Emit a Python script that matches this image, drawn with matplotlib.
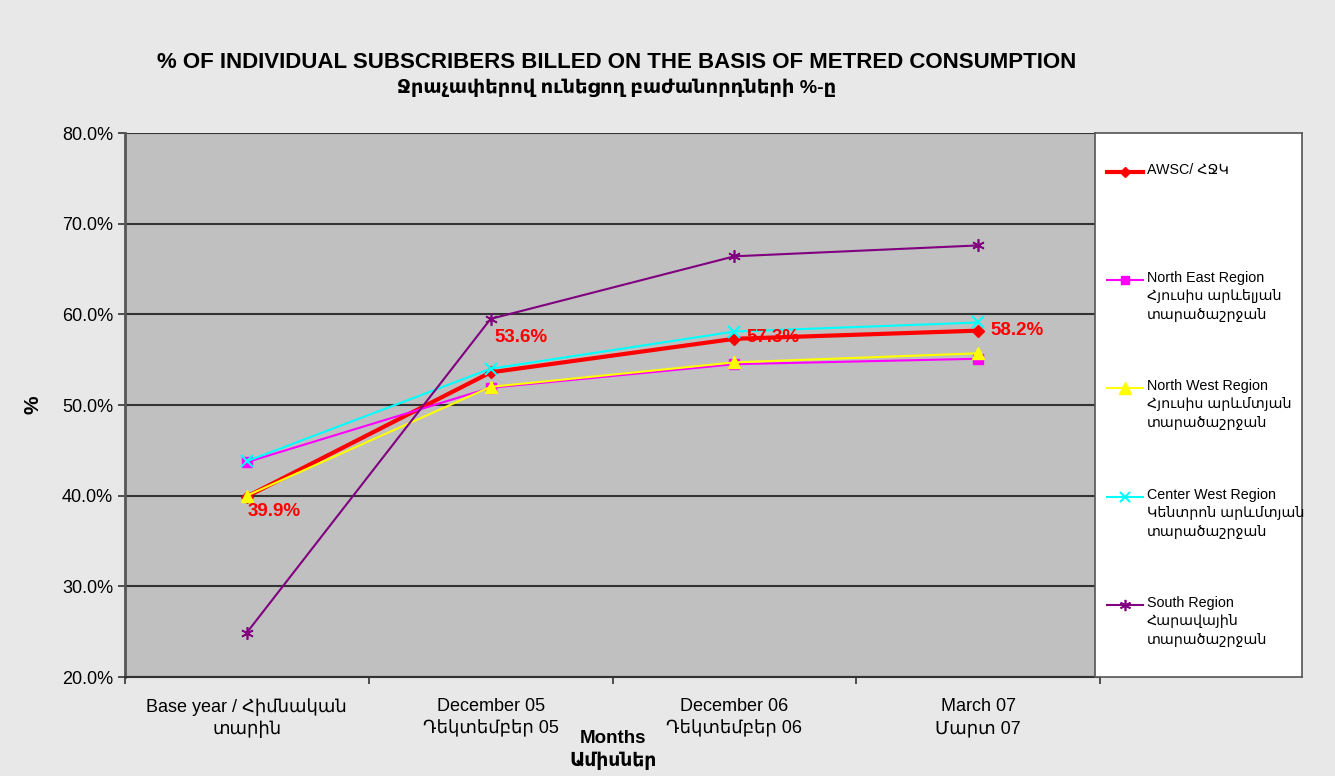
import matplotlib
matplotlib.use('Agg')
import matplotlib.pyplot as plt
import numpy as np

plt.rcParams['font.family'] = ['Liberation Sans', 'DejaVu Sans']

# data (percent)
periods = ['Base year / Հիմնական\nտարին', 'December 05\nԴեկտեմբեր 05',
           'December 06\nԴեկտեմբեր 06', 'March 07\nՄարտ 07']
awsc = [39.9, 53.6, 57.3, 58.2]
north_east = [43.7, 51.9, 54.5, 55.1]
north_west = [40.0, 52.0, 54.7, 55.7]
center_west = [43.8, 54.0, 58.1, 59.1]
south = [24.9, 59.5, 66.4, 67.6]
awsc_labels = ['39.9%', '53.6%', '57.3%', '58.2%']

series_names = ['AWSC/ ՀՋԿ',
                'North East Region\nՀյուսիս արևելյան\nտարածաշրջան',
                'North West Region\nՀյուսիս արևմտյան\nտարածաշրջան',
                'Center West Region\nԿենտրոն արևմտյան\nտարածաշրջան',
                'South Region\nՀարավային\nտարածաշրջան']

W, H = 1335, 776
fig = plt.figure(figsize=(W / 100, H / 100), dpi=100, facecolor='#e8e8e8')
ax = fig.add_axes([125 / W, 1 - 677 / H, 975 / W, 544 / H])
ax.set_facecolor('#c0c0c0')

x = np.arange(len(periods)) + 0.5
styles = [
    (awsc, dict(color='#ff0000', lw=3, marker='D', ms=6)),
    (north_east, dict(color='#ff00ff', lw=1.5, marker='s', ms=7)),
    (north_west, dict(color='#ffff00', lw=1.5, marker='^', ms=9)),
    (center_west, dict(color='#00ffff', lw=1.5, marker='x', ms=8, mew=1.5)),
    (south, dict(color='#800080', lw=1.5, marker=(6, 2, 0), ms=9, mew=1.2)),
]
for vals, st in styles:
    ax.plot(x, vals, **st)

offsets = [(1, -15), (4, 35), (12, 1), (12, 0)]
for xi, v, lab, off in zip(x, awsc, awsc_labels, offsets):
    ax.annotate(lab, (xi, v), xytext=off, textcoords='offset pixels',
                ha='left', va='center', color='#ff0000', fontsize=13.5,
                fontweight='bold')

ax.set_xlim(0, 4)
ax.set_ylim(20, 80)
ax.set_yticks(np.arange(20, 81, 10))
ax.set_yticklabels([f'{v:.1f}%' for v in np.arange(20, 81, 10)], fontsize=13)
ax.yaxis.grid(True, color='#333333', lw=1.5)
ax.set_axisbelow(True)
ax.set_xticks(np.arange(0, 5))
ax.set_xticklabels([])
ax.set_xticks(x, minor=True)
ax.set_xticklabels(periods, minor=True, fontsize=13, linespacing=1.4)
ax.tick_params(axis='x', which='minor', length=0, pad=15)
ax.tick_params(axis='both', which='major', length=5, width=1.2, color='#333333')
for s in ['top', 'right']:
    ax.spines[s].set_visible(False)
ax.spines['left'].set_color('#555555')
ax.spines['left'].set_linewidth(2)
ax.spines['bottom'].set_color('#333333')
ax.spines['bottom'].set_linewidth(1.5)

fig.text(617 / W, 1 - 62 / H, '% OF INDIVIDUAL SUBSCRIBERS BILLED ON THE BASIS OF METRED CONSUMPTION',
         ha='center', va='center', fontsize=16, fontweight='bold')
fig.text(617 / W, 1 - 88 / H, 'Ջրաչափերով ունեցող բաժանորդների %-ը',
         ha='center', va='center', fontsize=14, fontweight='bold')
fig.text(33 / W, 1 - 405 / H, '%', rotation=90, ha='center', va='center',
         fontsize=15, fontweight='bold')
fig.text(613 / W, 1 - 750 / H, 'Months\nԱմիսներ', ha='center', va='center',
         fontsize=13.5, fontweight='bold', linespacing=1.3)

# legend box on the right
lax = fig.add_axes([1095 / W, 1 - 677 / H, 207 / W, 544 / H])
lax.set_xlim(1095, 1302)
lax.set_ylim(677, 133)
lax.set_facecolor('white')
lax.set_xticks([])
lax.set_yticks([])
for s in lax.spines.values():
    s.set_color('#555555')
    s.set_linewidth(1.2)
leg_y = [172, 280, 388, 497, 605]
for (vals, st), name, ly in zip(styles, series_names, leg_y):
    lax.plot([1107, 1143], [ly, ly], color=st['color'], lw=st['lw'])
    mk = {k: v for k, v in st.items() if k != 'lw'}
    mk['ms'] = st['ms'] * 0.9
    lax.plot([1125], [ly], ls='none', **mk)
    lax.text(1147, ly - 9, name, ha='left', va='top', fontsize=10.3, linespacing=1.4)

fig.savefig('out.png', dpi=100, facecolor=fig.get_facecolor())
